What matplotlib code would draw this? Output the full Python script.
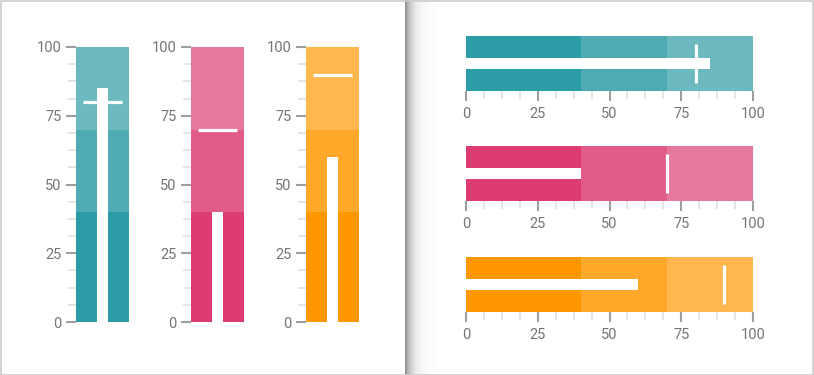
import numpy as np
import matplotlib
matplotlib.use("Agg")
import matplotlib.pyplot as plt
from matplotlib.patches import Rectangle

plt.rcParams['font.family'] = ['Roboto', 'DejaVu Sans']

# --- data ---
values = [85, 40, 60]
targets = [80, 70, 90]
range_ends = [40, 70, 100]
palettes = [
    ["#2c9ca6", "#4eabb3", "#6cb9c0"],   # teal
    ["#dc3c73", "#e05b89", "#e6789e"],   # pink
    ["#ff9800", "#ffa82a", "#ffb74e"],   # orange
]
major_ticks = [0, 25, 50, 75, 100]
minor_ticks = [i * 6.25 for i in range(17)]

W, H = 814, 375
fig = plt.figure(figsize=(W / 100, H / 100), dpi=100)
fig.patch.set_facecolor("white")


def px_axes(x0, y0, x1, y1):
    # pixel box (top-left origin) -> figure axes
    return fig.add_axes([x0 / W, 1 - y1 / H, (x1 - x0) / W, (y1 - y0) / H])


def style_axis(ax, which):
    for s in ax.spines.values():
        s.set_visible(False)
    axis = ax.yaxis if which == "y" else ax.xaxis
    axis.set_ticks(major_ticks)
    axis.set_ticks(minor_ticks, minor=True)
    ax.tick_params(axis=which, which="major", length=7.5, width=1.5,
                   color="#9e9e9e", labelcolor="#757575", labelsize=10.5, pad=3)
    ax.tick_params(axis=which, which="minor", length=6, width=1.2, color="#e0e0e0")
    if which == "y":
        ax.set_xticks([])
    else:
        ax.set_yticks([])
        ax.tick_params(axis="x", which="major", pad=4)


# --- vertical bullets (left panel) ---
vx = [(76, 129), (191, 244), (306, 359)]
for i, (x0, x1) in enumerate(vx):
    ax = px_axes(x0, 47, x1, 322)
    ax.set_xlim(0, 1)
    ax.set_ylim(0, 100)
    prev = 0
    for end, c in zip(range_ends, palettes[i]):
        ax.bar(0.5, end - prev, bottom=prev, width=1, color=c, linewidth=0)
        prev = end
    ax.bar(0.5, values[i], width=0.2, color="white", linewidth=0)
    ax.hlines(targets[i], 0.13, 0.87, color="white", linewidth=2.3)
    style_axis(ax, "y")

# --- horizontal bullets (right panel) ---
hy = [(36, 91), (146, 201), (257, 312)]
for i, (y0, y1) in enumerate(hy):
    ax = px_axes(466, y0, 753, y1)
    ax.set_ylim(0, 1)
    ax.set_xlim(0, 100)
    prev = 0
    for end, c in zip(range_ends, palettes[i]):
        ax.barh(0.5, end - prev, left=prev, height=1, color=c, linewidth=0)
        prev = end
    ax.barh(0.5, values[i], height=0.2, color="white", linewidth=0)
    ax.vlines(targets[i], 0.14, 0.86, color="white", linewidth=2.3)
    style_axis(ax, "x")

# --- panel shadow + border ---
sh = px_axes(405, 0, 435, H)
grad = np.exp(-np.linspace(0, 4.5, 60))[None, :]
sh.imshow(np.ones((1, 60, 3)) * 0.55, alpha=grad, aspect="auto", extent=[0, 1, 0, 1])
sh.set_xlim(0, 1)
sh.set_ylim(0, 1)
sh.axis("off")

fig.patches.append(Rectangle((0.5 / W, 0.5 / H), 1 - 1.5 / W, 1 - 1.5 / H,
                             transform=fig.transFigure, fill=False,
                             edgecolor="#cccccc", linewidth=1.2))

fig.savefig("out.png", dpi=100)
